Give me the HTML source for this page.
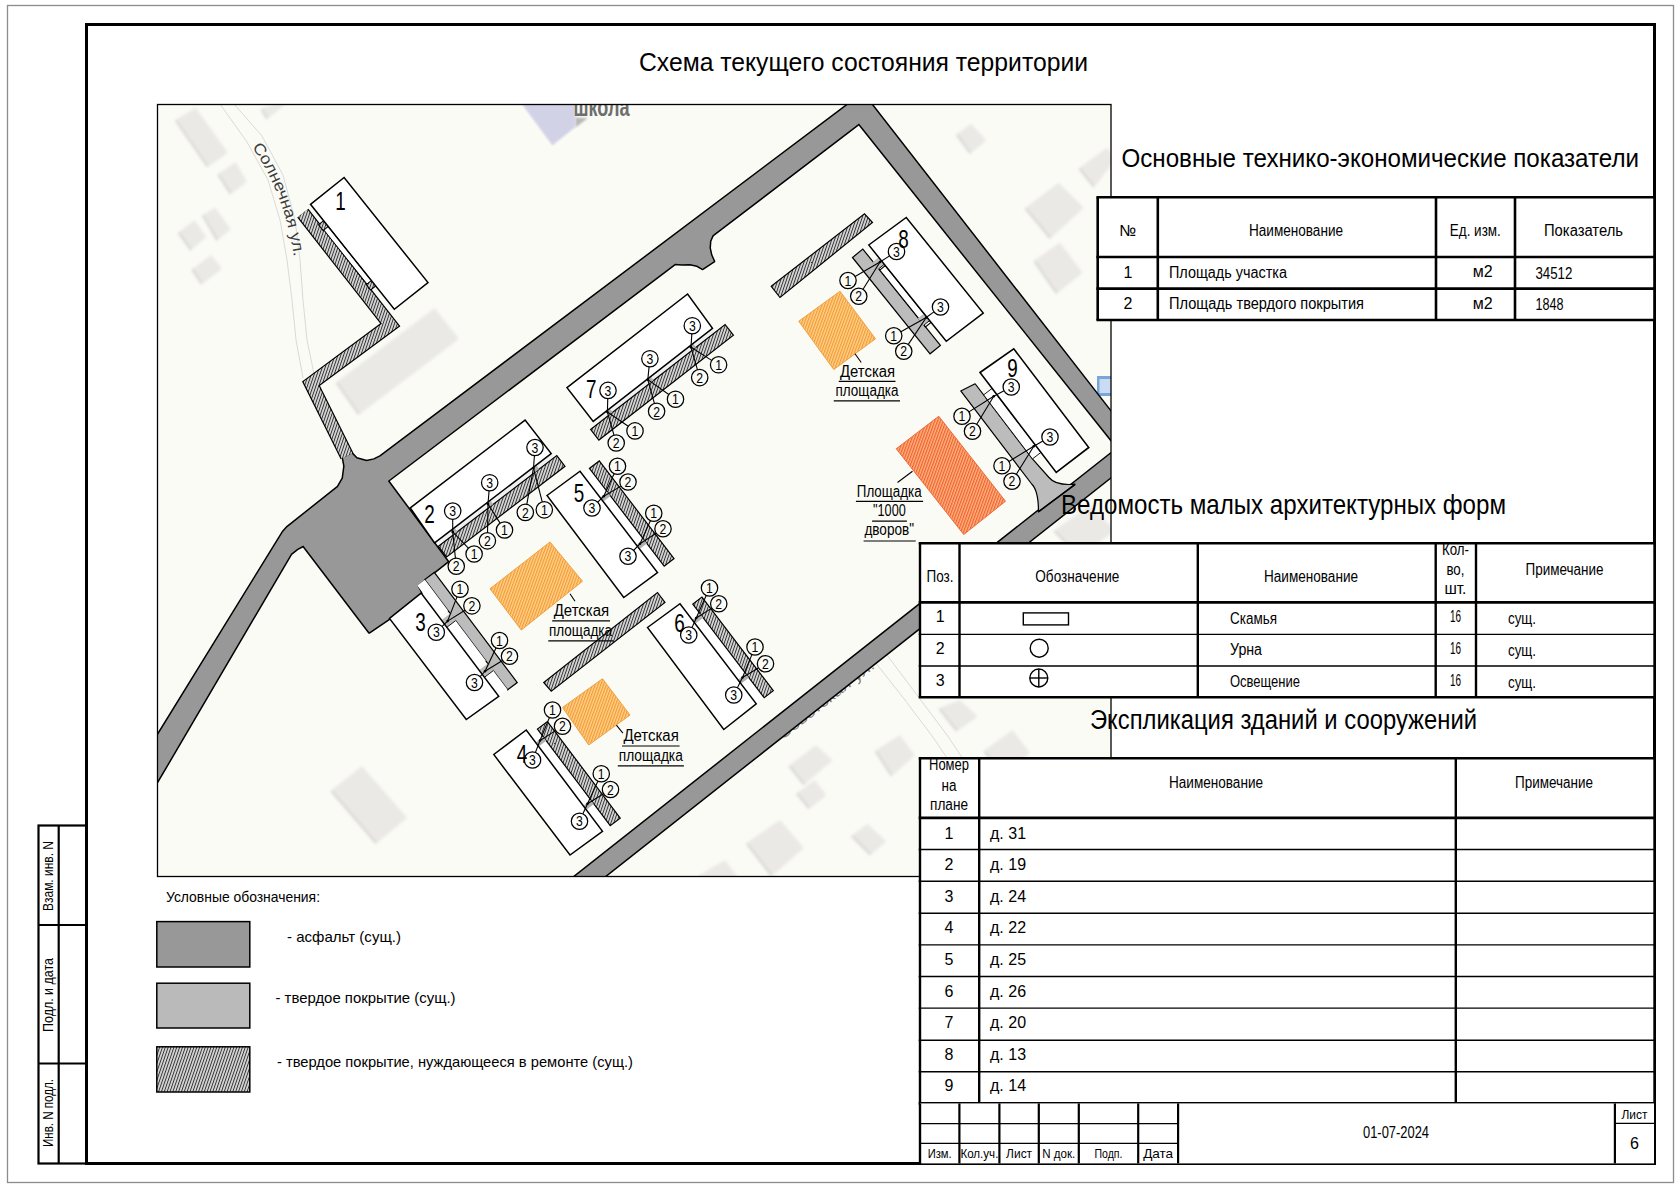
<!DOCTYPE html>
<html><head><meta charset="utf-8"><title>Схема текущего состояния территории</title>
<style>
html,body{margin:0;padding:0;background:#fff;}
body{width:1680px;height:1187px;overflow:hidden;}
svg{display:block;}
.t{font-family:"Liberation Sans",sans-serif;}
</style></head><body>
<svg width="1680" height="1187" viewBox="0 0 1680 1187">
<rect x="0" y="0" width="1680" height="1187" fill="#fff"/>
<defs>
<pattern id="hatchG" patternUnits="userSpaceOnUse" width="2.7" height="3" patternTransform="rotate(19)">
<rect width="2.7" height="3" fill="#d6d6d6"/><rect width="0.95" height="3" fill="#333"/></pattern>
<pattern id="hatchO" patternUnits="userSpaceOnUse" width="2.6" height="3" patternTransform="rotate(20)">
<rect width="2.6" height="3" fill="#ffd18a"/><rect width="1.2" height="3" fill="#f29a35"/></pattern>
<pattern id="hatchR" patternUnits="userSpaceOnUse" width="2.6" height="3" patternTransform="rotate(20)">
<rect width="2.6" height="3" fill="#ffb27e"/><rect width="1.2" height="3" fill="#ee6232"/></pattern>
<filter id="blur" x="-20%" y="-20%" width="140%" height="140%"><feGaussianBlur stdDeviation="1.6"/></filter>
<filter id="blur1" x="-20%" y="-20%" width="140%" height="140%"><feGaussianBlur stdDeviation="0.8"/></filter>
</defs>
<defs><clipPath id="mclip"><rect x="157.5" y="104.5" width="953.5" height="772"/></clipPath></defs>
<g clip-path="url(#mclip)">
<rect x="157.5" y="104.5" width="953.5" height="772" fill="#fbfbf6" stroke="none" stroke-width="0" />
<g filter="url(#blur)">
<polygon points="174.8,120.8 194.2,109.2 226.2,153.7 206.8,167.3" fill="#d6d6d4"/>
<polygon points="176.4,119.4 195.8,107.8 227.8,152.3 208.4,165.9" fill="#ebe9e6"/>
<polygon points="217.4,175.1 233.9,163.4 245.5,182.8 230,194.4" fill="#d6d6d4"/>
<polygon points="219,173.7 235.5,162 247.1,181.4 231.6,193" fill="#ebe9e6"/>
<polygon points="177.7,233.2 193.2,221.6 204.8,238.1 190.3,250.7" fill="#d6d6d4"/>
<polygon points="179.3,231.8 194.8,220.2 206.4,236.7 191.9,249.3" fill="#ebe9e6"/>
<polygon points="201.9,215.8 213.6,209 229.1,230.3 216.4,241" fill="#d6d6d4"/>
<polygon points="203.5,214.4 215.2,207.6 230.7,228.9 218,239.6" fill="#ebe9e6"/>
<polygon points="191.3,270 209.7,256.5 220.3,270 201,284.6" fill="#d6d6d4"/>
<polygon points="192.9,268.6 211.3,255.1 221.9,268.6 202.6,283.2" fill="#ebe9e6"/>
<polygon points="260.4,109.4 278.4,104.4 283.4,105.4 266.4,119.4" fill="#d6d6d4"/>
<polygon points="262,108 280,103 285,104 268,118" fill="#ebe9e6"/>
<polygon points="335.7,383.1 433.3,309.5 457.3,339.9 358.1,415.1" fill="#d6d6d4"/>
<polygon points="337.3,381.7 434.9,308.1 458.9,338.5 359.7,413.7" fill="#ebe9e6"/>
<polygon points="955.9,135.15 969.65,125.15 984.65,141.4 969.65,153.9" fill="#d6d6d4"/>
<polygon points="957.5,133.75 971.25,123.75 986.25,140 971.25,152.5" fill="#ebe9e6"/>
<polygon points="1078.4,168.9 1105.9,148.9 1113.4,161.4 1093.4,187.65" fill="#d6d6d4"/>
<polygon points="1080,167.5 1107.5,147.5 1115,160 1095,186.25" fill="#ebe9e6"/>
<polygon points="1024.65,208.9 1057.15,183.9 1082.15,208.9 1049.65,238.9" fill="#d6d6d4"/>
<polygon points="1026.25,207.5 1058.75,182.5 1083.75,207.5 1051.25,237.5" fill="#ebe9e6"/>
<polygon points="1033.4,261.4 1058.4,243.9 1080.9,273.9 1055.9,293.9" fill="#d6d6d4"/>
<polygon points="1035,260 1060,242.5 1082.5,272.5 1057.5,292.5" fill="#ebe9e6"/>
<polygon points="788.4,766.4 814.65,746.4 830.9,761.4 803.4,785.15" fill="#d6d6d4"/>
<polygon points="790,765 816.25,745 832.5,760 805,783.75" fill="#ebe9e6"/>
<polygon points="795.9,793.9 813.4,781.4 824.65,796.4 808.4,808.9" fill="#d6d6d4"/>
<polygon points="797.5,792.5 815,780 826.25,795 810,807.5" fill="#ebe9e6"/>
<polygon points="745.9,843.9 778.4,821.4 802.15,848.9 770.9,876.4" fill="#d6d6d4"/>
<polygon points="747.5,842.5 780,820 803.75,847.5 772.5,875" fill="#ebe9e6"/>
<polygon points="850.9,836.4 865.9,825.15 884.65,842.65 869.65,855.15" fill="#d6d6d4"/>
<polygon points="852.5,835 867.5,823.75 886.25,841.25 871.25,853.75" fill="#ebe9e6"/>
<polygon points="874.65,751.4 898.4,736.4 913.4,756.4 890.9,776.4" fill="#d6d6d4"/>
<polygon points="876.25,750 900,735 915,755 892.5,775" fill="#ebe9e6"/>
<polygon points="938.4,708.9 958.4,701.4 975.9,717.65 955.9,731.4" fill="#d6d6d4"/>
<polygon points="940,707.5 960,700 977.5,716.25 957.5,730" fill="#ebe9e6"/>
<polygon points="983.4,751.4 1010.9,731.4 1028.4,753.9 1000.4,773.4" fill="#d6d6d4"/>
<polygon points="985,750 1012.5,730 1030,752.5 1002,772" fill="#ebe9e6"/>
<polygon points="330.4,791.4 360.4,767.4 405.4,818.9 375.4,843.9" fill="#d6d6d4"/>
<polygon points="332,790 362,766 407,817.5 377,842.5" fill="#ebe9e6"/>
<polygon points="1053.4,531.4 1088.4,506.4 1113.4,531.4 1078.4,556.4" fill="#d6d6d4"/>
<polygon points="1055,530 1090,505 1115,530 1080,555" fill="#ebe9e6"/>
<polygon points="698.4,876.4 723.4,861.4 738.4,881.4 713.4,891.4" fill="#d6d6d4"/>
<polygon points="700,875 725,860 740,880 715,890" fill="#ebe9e6"/>
</g>
<polygon points="575,117.5 588,118 575.5,127.5" fill="#b8b8b8" stroke="none" stroke-width="0" filter="url(#blur1)"/>
<polygon points="519,100 552.4,145.5 575.5,127 576,100" fill="#d2d2e6" stroke="none" stroke-width="0" filter="url(#blur1)"/>
<text class="t" x="573.5" y="115.5" font-size="25" text-anchor="start" fill="#6e6e6e" textLength="56" lengthAdjust="spacingAndGlyphs" font-weight="bold" stroke="#f4f4f4" stroke-width="0.6" paint-order="stroke">школа</text>
<g fill="none" stroke="#d9d9d6" stroke-width="1">
<polyline points="220,104 247,142 268,180 280,220 287,260 292,300 296,340 303,378"/>
<polyline points="234,104 262,136 283,175 295,220 300,260 303,300 307,340 314,374"/>
<polyline points="875,662 905,700 935,740 955,770"/>
<polyline points="887,655 917,695 947,735 967,765"/>
</g>
<path id="solp" d="M252,147 Q288,198 295.5,270" fill="none"/>
<text class="t" font-size="16" fill="#3c3c3c" stroke="#fbfbf6" stroke-width="0.6" paint-order="stroke"><textPath href="#solp" textLength="119" lengthAdjust="spacingAndGlyphs">Солнечная ул.</textPath></text>
<text class="t" x="0" y="0" font-size="15" text-anchor="start" fill="#808080" textLength="118" lengthAdjust="spacingAndGlyphs" transform="translate(782.5,740) rotate(-38)">Советская ул.</text>
<rect x="1097" y="376" width="14" height="20" fill="#7aa6dc" stroke="none" stroke-width="0" />
<rect x="1099.5" y="379" width="11.5" height="14" fill="#c9dcf2" stroke="none" stroke-width="0" />
<polygon points="117.8,800 283,532 287,527.5 338,486.9 343,478.2 344.6,466.1 343,457.4 350.6,452.4 356.6,458.5 366.5,461.2 374.2,459.6 380.7,456.3 862.9,93.4 1130,436.5 1130,463.3 859,123.6 712.5,235.3 710,241 709.5,248 711,255 713.8,261.3 702.5,268.8 697,265.5 690,264 682,264.2 675,263.7 387.8,480.9 447.6,561.5 417.3,585.5 421.1,593.1 389.5,618.4 369.3,632.3 303.3,545.6 297,549 291,553.7 146.5,800" fill="none" stroke="#000" stroke-width="3" stroke-linejoin="round"/>
<polygon points="545.2,900 1130,438.6 1130,461.95 574.8,900" fill="none" stroke="#000" stroke-width="3" stroke-linejoin="round"/>
<polygon points="117.8,800 283,532 287,527.5 338,486.9 343,478.2 344.6,466.1 343,457.4 350.6,452.4 356.6,458.5 366.5,461.2 374.2,459.6 380.7,456.3 862.9,93.4 1130,436.5 1130,463.3 859,123.6 712.5,235.3 710,241 709.5,248 711,255 713.8,261.3 702.5,268.8 697,265.5 690,264 682,264.2 675,263.7 387.8,480.9 447.6,561.5 417.3,585.5 421.1,593.1 389.5,618.4 369.3,632.3 303.3,545.6 297,549 291,553.7 146.5,800" fill="#989898" stroke="none" stroke-width="0" />
<polygon points="545.2,900 1130,438.6 1130,461.95 574.8,900" fill="#989898" stroke="none" stroke-width="0" />
<polyline points="302.8,213.2 390.3,324.8 311,383.6 347,456" fill="none" stroke="#000" stroke-width="14.2" stroke-linejoin="miter" stroke-miterlimit="10"/>
<polyline points="302.8,213.2 390.3,324.8 311,383.6 347,456" fill="none" stroke="url(#hatchG)" stroke-width="11.8" stroke-linejoin="miter" stroke-miterlimit="10"/>
<polygon points="323.99,220.4 328.67,226.26 323.2,230.63 318.52,224.77" fill="url(#hatchG)" stroke="#000" stroke-width="1.1" />
<polygon points="371.71,280.19 376.08,285.66 370.61,290.03 366.24,284.56" fill="url(#hatchG)" stroke="#000" stroke-width="1.1" />
<polygon points="328.28,226.58 371.32,280.51 366.94,284 323.9,230.07" fill="#ffffff" stroke="none" stroke-width="0" />
<polygon points="310.5,204.3 344.1,177.5 428,282.6 394.3,309.3" fill="#ffffff" stroke="#000" stroke-width="1.5" stroke-linejoin="miter"/>
<text class="t" x="340.5" y="210.3" font-size="26.5" text-anchor="middle" fill="#000" textLength="10.5" lengthAdjust="spacingAndGlyphs" >1</text>
<polygon points="328.28,226.58 371.32,280.51 366.94,284 323.9,230.07" fill="none" stroke="#000" stroke-width="1.0" />
<polygon points="440.95,538.04 551.23,453.58 554.27,457.55 443.99,542.01" fill="#f0f0f0" stroke="none" stroke-width="0" />
<polygon points="438.43,546.26 556.81,455.6 565.01,466.32 446.64,556.98" fill="url(#hatchG)" stroke="#000" stroke-width="1.2" />
<polygon points="450.83,531.1 454.8,528.06 457.53,531.63 453.56,534.67" fill="#b0b0b0" stroke="none" stroke-width="0" />
<polygon points="486.5,503.78 490.47,500.74 493.2,504.32 489.23,507.36" fill="#b0b0b0" stroke="none" stroke-width="0" />
<polygon points="532.55,468.51 536.52,465.47 539.26,469.04 535.29,472.08" fill="#b0b0b0" stroke="none" stroke-width="0" />
<polygon points="410.3,507.9 525.1,420.1 551.2,453.6 434.6,542.9" fill="#ffffff" stroke="#000" stroke-width="1.5" stroke-linejoin="miter"/>
<text class="t" x="429.5" y="523" font-size="26.5" text-anchor="middle" fill="#000" textLength="10.5" lengthAdjust="spacingAndGlyphs" >2</text>
<line x1="452.7" y1="531.9" x2="468.4" y2="548.11" stroke="#000" stroke-width="1.1"/>
<line x1="452.7" y1="531.9" x2="455.41" y2="558.09" stroke="#000" stroke-width="1.1"/>
<line x1="452.7" y1="531.9" x2="452.7" y2="519.3" stroke="#000" stroke-width="1.1"/>
<circle cx="452.7" cy="531.9" r="1.3" fill="#000"/>
<circle cx="474.1" cy="554" r="8.2" fill="none" stroke="#000" stroke-width="1.25"/>
<text class="t" x="474.1" y="559.2" font-size="14.5" text-anchor="middle" fill="#000" textLength="6.8" lengthAdjust="spacingAndGlyphs" >1</text>
<circle cx="456.25" cy="566.25" r="8.2" fill="none" stroke="#000" stroke-width="1.25"/>
<text class="t" x="456.25" y="571.45" font-size="14.5" text-anchor="middle" fill="#000" textLength="6.8" lengthAdjust="spacingAndGlyphs" >2</text>
<circle cx="452.7" cy="511.1" r="8.2" fill="none" stroke="#000" stroke-width="1.25"/>
<text class="t" x="452.7" y="516.3" font-size="14.5" text-anchor="middle" fill="#000" textLength="6.8" lengthAdjust="spacingAndGlyphs" >3</text>
<line x1="488" y1="504.1" x2="500.09" y2="523.08" stroke="#000" stroke-width="1.1"/>
<line x1="488" y1="504.1" x2="487.53" y2="532.6" stroke="#000" stroke-width="1.1"/>
<line x1="488" y1="504.1" x2="489.05" y2="490.87" stroke="#000" stroke-width="1.1"/>
<circle cx="488" cy="504.1" r="1.3" fill="#000"/>
<circle cx="504.5" cy="530" r="8.2" fill="none" stroke="#000" stroke-width="1.25"/>
<text class="t" x="504.5" y="535.2" font-size="14.5" text-anchor="middle" fill="#000" textLength="6.8" lengthAdjust="spacingAndGlyphs" >1</text>
<circle cx="487.4" cy="540.8" r="8.2" fill="none" stroke="#000" stroke-width="1.25"/>
<text class="t" x="487.4" y="546" font-size="14.5" text-anchor="middle" fill="#000" textLength="6.8" lengthAdjust="spacingAndGlyphs" >2</text>
<circle cx="489.7" cy="482.7" r="8.2" fill="none" stroke="#000" stroke-width="1.25"/>
<text class="t" x="489.7" y="487.9" font-size="14.5" text-anchor="middle" fill="#000" textLength="6.8" lengthAdjust="spacingAndGlyphs" >3</text>
<line x1="533.5" y1="468.1" x2="542.24" y2="501.86" stroke="#000" stroke-width="1.1"/>
<line x1="533.5" y1="468.1" x2="526.79" y2="504.34" stroke="#000" stroke-width="1.1"/>
<line x1="533.5" y1="468.1" x2="534.4" y2="455.68" stroke="#000" stroke-width="1.1"/>
<circle cx="533.5" cy="468.1" r="1.3" fill="#000"/>
<circle cx="544.3" cy="509.8" r="8.2" fill="none" stroke="#000" stroke-width="1.25"/>
<text class="t" x="544.3" y="515" font-size="14.5" text-anchor="middle" fill="#000" textLength="6.8" lengthAdjust="spacingAndGlyphs" >1</text>
<circle cx="525.3" cy="512.4" r="8.2" fill="none" stroke="#000" stroke-width="1.25"/>
<text class="t" x="525.3" y="517.6" font-size="14.5" text-anchor="middle" fill="#000" textLength="6.8" lengthAdjust="spacingAndGlyphs" >2</text>
<circle cx="535" cy="447.5" r="8.2" fill="none" stroke="#000" stroke-width="1.25"/>
<text class="t" x="535" y="452.7" font-size="14.5" text-anchor="middle" fill="#000" textLength="6.8" lengthAdjust="spacingAndGlyphs" >3</text>
<polygon points="424.72,579.61 507.65,689.79 517.24,682.57 434.3,572.4" fill="#bcbcbc" stroke="#000" stroke-width="1.2" />
<polygon points="417.25,585.49 440.34,616.17 447.93,610.45 424.84,579.77" fill="#ffffff" stroke="none" stroke-width="0" />
<polygon points="442.45,618.96 478.23,666.5 485.82,660.78 450.04,613.25" fill="#ffffff" stroke="none" stroke-width="0" />
<polygon points="480.64,669.69 499.88,695.26 507.47,689.55 488.23,663.98" fill="#ffffff" stroke="none" stroke-width="0" />
<polygon points="441.67,619.93 447.09,627.12 456.27,620.2 450.86,613.01" fill="#bcbcbc" stroke="none" stroke-width="0" />
<polyline points="446.85,627.3 455.63,620.68" fill="none" stroke="#000" stroke-width="0.9" />
<polygon points="479.3,669.91 484.71,677.1 493.9,670.18 488.49,662.99" fill="#bcbcbc" stroke="none" stroke-width="0" />
<polyline points="484.47,677.28 493.26,670.67" fill="none" stroke="#000" stroke-width="0.9" />
<polygon points="389.5,618.4 421.1,593.1 498.75,696.25 466.25,719.5" fill="#ffffff" stroke="#000" stroke-width="1.5" stroke-linejoin="miter"/>
<text class="t" x="420.5" y="630.6" font-size="26.5" text-anchor="middle" fill="#000" textLength="10.5" lengthAdjust="spacingAndGlyphs" >3</text>
<line x1="447.6" y1="621.1" x2="457.03" y2="596.84" stroke="#000" stroke-width="1.1"/>
<line x1="447.6" y1="621.1" x2="464.96" y2="610.17" stroke="#000" stroke-width="1.1"/>
<line x1="447.6" y1="621.1" x2="442.15" y2="626.45" stroke="#000" stroke-width="1.1"/>
<circle cx="447.6" cy="621.1" r="1.3" fill="#000"/>
<circle cx="460" cy="589.2" r="8.2" fill="none" stroke="#000" stroke-width="1.25"/>
<text class="t" x="460" y="594.4" font-size="14.5" text-anchor="middle" fill="#000" textLength="6.8" lengthAdjust="spacingAndGlyphs" >1</text>
<circle cx="471.9" cy="605.8" r="8.2" fill="none" stroke="#000" stroke-width="1.25"/>
<text class="t" x="471.9" y="611" font-size="14.5" text-anchor="middle" fill="#000" textLength="6.8" lengthAdjust="spacingAndGlyphs" >2</text>
<circle cx="436.3" cy="632.2" r="8.2" fill="none" stroke="#000" stroke-width="1.25"/>
<text class="t" x="436.3" y="637.4" font-size="14.5" text-anchor="middle" fill="#000" textLength="6.8" lengthAdjust="spacingAndGlyphs" >3</text>
<line x1="485" y1="671.25" x2="496" y2="647.92" stroke="#000" stroke-width="1.1"/>
<line x1="485" y1="671.25" x2="502.51" y2="660.53" stroke="#000" stroke-width="1.1"/>
<line x1="485" y1="671.25" x2="480.1" y2="676.51" stroke="#000" stroke-width="1.1"/>
<circle cx="485" cy="671.25" r="1.3" fill="#000"/>
<circle cx="499.5" cy="640.5" r="8.2" fill="none" stroke="#000" stroke-width="1.25"/>
<text class="t" x="499.5" y="645.7" font-size="14.5" text-anchor="middle" fill="#000" textLength="6.8" lengthAdjust="spacingAndGlyphs" >1</text>
<circle cx="509.5" cy="656.25" r="8.2" fill="none" stroke="#000" stroke-width="1.25"/>
<text class="t" x="509.5" y="661.45" font-size="14.5" text-anchor="middle" fill="#000" textLength="6.8" lengthAdjust="spacingAndGlyphs" >2</text>
<circle cx="474.5" cy="682.5" r="8.2" fill="none" stroke="#000" stroke-width="1.25"/>
<text class="t" x="474.5" y="687.7" font-size="14.5" text-anchor="middle" fill="#000" textLength="6.8" lengthAdjust="spacingAndGlyphs" >3</text>
<polygon points="530.66,734.19 603.45,830.85 610.24,825.73 537.45,729.08" fill="#ffffff" stroke="none" stroke-width="0" />
<polygon points="537.45,729.08 610.24,825.73 620.22,818.21 547.43,721.56" fill="url(#hatchG)" stroke="#000" stroke-width="1.2" />
<polygon points="536.07,742.21 539.08,746.2 546.27,740.79 543.26,736.79" fill="#b0b0b0" stroke="none" stroke-width="0" />
<polygon points="583.65,805.39 586.66,809.39 593.85,803.97 590.84,799.98" fill="#b0b0b0" stroke="none" stroke-width="0" />
<polygon points="493.75,754.5 526.25,730 602.5,831.25 570,855" fill="#ffffff" stroke="#000" stroke-width="1.5" stroke-linejoin="miter"/>
<text class="t" x="522" y="763" font-size="26.5" text-anchor="middle" fill="#000" textLength="10.5" lengthAdjust="spacingAndGlyphs" >4</text>
<line x1="540" y1="740.5" x2="549.39" y2="717.59" stroke="#000" stroke-width="1.1"/>
<line x1="540" y1="740.5" x2="555.57" y2="730.64" stroke="#000" stroke-width="1.1"/>
<line x1="540" y1="740.5" x2="535.44" y2="752.35" stroke="#000" stroke-width="1.1"/>
<circle cx="540" cy="740.5" r="1.3" fill="#000"/>
<circle cx="552.5" cy="710" r="8.2" fill="none" stroke="#000" stroke-width="1.25"/>
<text class="t" x="552.5" y="715.2" font-size="14.5" text-anchor="middle" fill="#000" textLength="6.8" lengthAdjust="spacingAndGlyphs" >1</text>
<circle cx="562.5" cy="726.25" r="8.2" fill="none" stroke="#000" stroke-width="1.25"/>
<text class="t" x="562.5" y="731.45" font-size="14.5" text-anchor="middle" fill="#000" textLength="6.8" lengthAdjust="spacingAndGlyphs" >2</text>
<circle cx="532.5" cy="760" r="8.2" fill="none" stroke="#000" stroke-width="1.25"/>
<text class="t" x="532.5" y="765.2" font-size="14.5" text-anchor="middle" fill="#000" textLength="6.8" lengthAdjust="spacingAndGlyphs" >3</text>
<line x1="587.5" y1="803.75" x2="597.83" y2="781.2" stroke="#000" stroke-width="1.1"/>
<line x1="587.5" y1="803.75" x2="603.53" y2="793.82" stroke="#000" stroke-width="1.1"/>
<line x1="587.5" y1="803.75" x2="582.91" y2="813.79" stroke="#000" stroke-width="1.1"/>
<circle cx="587.5" cy="803.75" r="1.3" fill="#000"/>
<circle cx="601.25" cy="773.75" r="8.2" fill="none" stroke="#000" stroke-width="1.25"/>
<text class="t" x="601.25" y="778.95" font-size="14.5" text-anchor="middle" fill="#000" textLength="6.8" lengthAdjust="spacingAndGlyphs" >1</text>
<circle cx="610.5" cy="789.5" r="8.2" fill="none" stroke="#000" stroke-width="1.25"/>
<text class="t" x="610.5" y="794.7" font-size="14.5" text-anchor="middle" fill="#000" textLength="6.8" lengthAdjust="spacingAndGlyphs" >2</text>
<circle cx="579.5" cy="821.25" r="8.2" fill="none" stroke="#000" stroke-width="1.25"/>
<text class="t" x="579.5" y="826.45" font-size="14.5" text-anchor="middle" fill="#000" textLength="6.8" lengthAdjust="spacingAndGlyphs" >3</text>
<polygon points="582.92,473.42 657.68,571.09 664.19,566.11 589.43,468.44" fill="#ffffff" stroke="none" stroke-width="0" />
<polygon points="589.43,468.44 664.19,566.11 674.04,558.57 599.28,460.9" fill="url(#hatchG)" stroke="#000" stroke-width="1.2" />
<polygon points="600.63,497.38 603.67,501.35 610.58,496.06 607.54,492.09" fill="#b0b0b0" stroke="none" stroke-width="0" />
<polygon points="636.95,544.83 639.99,548.8 646.9,543.51 643.86,539.54" fill="#b0b0b0" stroke="none" stroke-width="0" />
<polygon points="547,495.5 580,471.25 657.5,572.5 623.75,597.5" fill="#ffffff" stroke="#000" stroke-width="1.5" stroke-linejoin="miter"/>
<text class="t" x="579" y="502" font-size="26.5" text-anchor="middle" fill="#000" textLength="10.5" lengthAdjust="spacingAndGlyphs" >5</text>
<line x1="603.75" y1="496.25" x2="614.08" y2="473.7" stroke="#000" stroke-width="1.1"/>
<line x1="603.75" y1="496.25" x2="620.93" y2="486.15" stroke="#000" stroke-width="1.1"/>
<line x1="603.75" y1="496.25" x2="597.8" y2="502.2" stroke="#000" stroke-width="1.1"/>
<circle cx="603.75" cy="496.25" r="1.3" fill="#000"/>
<circle cx="617.5" cy="466.25" r="8.2" fill="none" stroke="#000" stroke-width="1.25"/>
<text class="t" x="617.5" y="471.45" font-size="14.5" text-anchor="middle" fill="#000" textLength="6.8" lengthAdjust="spacingAndGlyphs" >1</text>
<circle cx="628" cy="482" r="8.2" fill="none" stroke="#000" stroke-width="1.25"/>
<text class="t" x="628" y="487.2" font-size="14.5" text-anchor="middle" fill="#000" textLength="6.8" lengthAdjust="spacingAndGlyphs" >2</text>
<circle cx="592" cy="508" r="8.2" fill="none" stroke="#000" stroke-width="1.25"/>
<text class="t" x="592" y="513.2" font-size="14.5" text-anchor="middle" fill="#000" textLength="6.8" lengthAdjust="spacingAndGlyphs" >3</text>
<line x1="640" y1="543.75" x2="650.38" y2="520.73" stroke="#000" stroke-width="1.1"/>
<line x1="640" y1="543.75" x2="656.13" y2="533.23" stroke="#000" stroke-width="1.1"/>
<line x1="640" y1="543.75" x2="633.68" y2="550.33" stroke="#000" stroke-width="1.1"/>
<circle cx="640" cy="543.75" r="1.3" fill="#000"/>
<circle cx="653.75" cy="513.25" r="8.2" fill="none" stroke="#000" stroke-width="1.25"/>
<text class="t" x="653.75" y="518.45" font-size="14.5" text-anchor="middle" fill="#000" textLength="6.8" lengthAdjust="spacingAndGlyphs" >1</text>
<circle cx="663" cy="528.75" r="8.2" fill="none" stroke="#000" stroke-width="1.25"/>
<text class="t" x="663" y="533.95" font-size="14.5" text-anchor="middle" fill="#000" textLength="6.8" lengthAdjust="spacingAndGlyphs" >2</text>
<circle cx="628" cy="556.25" r="8.2" fill="none" stroke="#000" stroke-width="1.25"/>
<text class="t" x="628" y="561.45" font-size="14.5" text-anchor="middle" fill="#000" textLength="6.8" lengthAdjust="spacingAndGlyphs" >3</text>
<polygon points="685.65,609.51 757.01,703.1 764.17,697.64 692.8,604.05" fill="#ffffff" stroke="none" stroke-width="0" />
<polygon points="692.8,604.05 764.17,697.64 773.31,690.67 701.95,597.08" fill="url(#hatchG)" stroke="#000" stroke-width="1.2" />
<polygon points="692.64,619.5 695.67,623.47 703.22,617.71 700.19,613.74" fill="#b0b0b0" stroke="none" stroke-width="0" />
<polygon points="738.33,679.42 741.36,683.4 748.92,677.64 745.88,673.66" fill="#b0b0b0" stroke="none" stroke-width="0" />
<polygon points="647.5,627.5 680,603.75 756.25,703.75 723.75,729.5" fill="#ffffff" stroke="#000" stroke-width="1.5" stroke-linejoin="miter"/>
<text class="t" x="679.5" y="632.4" font-size="26.5" text-anchor="middle" fill="#000" textLength="10.5" lengthAdjust="spacingAndGlyphs" >6</text>
<line x1="696.25" y1="618" x2="706.19" y2="595.5" stroke="#000" stroke-width="1.1"/>
<line x1="696.25" y1="618" x2="711.82" y2="608.14" stroke="#000" stroke-width="1.1"/>
<line x1="696.25" y1="618" x2="692.06" y2="627.5" stroke="#000" stroke-width="1.1"/>
<circle cx="696.25" cy="618" r="1.3" fill="#000"/>
<circle cx="709.5" cy="588" r="8.2" fill="none" stroke="#000" stroke-width="1.25"/>
<text class="t" x="709.5" y="593.2" font-size="14.5" text-anchor="middle" fill="#000" textLength="6.8" lengthAdjust="spacingAndGlyphs" >1</text>
<circle cx="718.75" cy="603.75" r="8.2" fill="none" stroke="#000" stroke-width="1.25"/>
<text class="t" x="718.75" y="608.95" font-size="14.5" text-anchor="middle" fill="#000" textLength="6.8" lengthAdjust="spacingAndGlyphs" >2</text>
<circle cx="688.75" cy="635" r="8.2" fill="none" stroke="#000" stroke-width="1.25"/>
<text class="t" x="688.75" y="640.2" font-size="14.5" text-anchor="middle" fill="#000" textLength="6.8" lengthAdjust="spacingAndGlyphs" >3</text>
<line x1="742.5" y1="677.5" x2="751.89" y2="654.59" stroke="#000" stroke-width="1.1"/>
<line x1="742.5" y1="677.5" x2="758.46" y2="667.96" stroke="#000" stroke-width="1.1"/>
<line x1="742.5" y1="677.5" x2="737.42" y2="687.67" stroke="#000" stroke-width="1.1"/>
<circle cx="742.5" cy="677.5" r="1.3" fill="#000"/>
<circle cx="755" cy="647" r="8.2" fill="none" stroke="#000" stroke-width="1.25"/>
<text class="t" x="755" y="652.2" font-size="14.5" text-anchor="middle" fill="#000" textLength="6.8" lengthAdjust="spacingAndGlyphs" >1</text>
<circle cx="765.5" cy="663.75" r="8.2" fill="none" stroke="#000" stroke-width="1.25"/>
<text class="t" x="765.5" y="668.95" font-size="14.5" text-anchor="middle" fill="#000" textLength="6.8" lengthAdjust="spacingAndGlyphs" >2</text>
<circle cx="733.75" cy="695" r="8.2" fill="none" stroke="#000" stroke-width="1.25"/>
<text class="t" x="733.75" y="700.2" font-size="14.5" text-anchor="middle" fill="#000" textLength="6.8" lengthAdjust="spacingAndGlyphs" >3</text>
<polygon points="597.14,418.33 712.29,328.56 715.18,332.27 600.03,422.03" fill="#f0f0f0" stroke="none" stroke-width="0" />
<polygon points="590.57,429.41 725.12,324.52 733.42,335.17 598.87,440.06" fill="url(#hatchG)" stroke="#000" stroke-width="1.2" />
<polygon points="606.11,411.97 610.05,408.9 612.63,412.21 608.69,415.28" fill="#b0b0b0" stroke="none" stroke-width="0" />
<polygon points="646.95,380.13 650.89,377.06 653.47,380.37 649.53,383.45" fill="#b0b0b0" stroke="none" stroke-width="0" />
<polygon points="689.48,346.98 693.42,343.9 696.01,347.22 692.06,350.29" fill="#b0b0b0" stroke="none" stroke-width="0" />
<polygon points="567,387.7 687.6,294 712.5,328.4 593.2,421.4" fill="#ffffff" stroke="#000" stroke-width="1.5" stroke-linejoin="miter"/>
<text class="t" x="591.2" y="397.8" font-size="26.5" text-anchor="middle" fill="#000" textLength="10.5" lengthAdjust="spacingAndGlyphs" >7</text>
<line x1="607.4" y1="412" x2="628.23" y2="426.27" stroke="#000" stroke-width="1.1"/>
<line x1="607.4" y1="412" x2="613.96" y2="435.11" stroke="#000" stroke-width="1.1"/>
<line x1="607.4" y1="412" x2="607.77" y2="398.6" stroke="#000" stroke-width="1.1"/>
<circle cx="607.4" cy="412" r="1.3" fill="#000"/>
<circle cx="635" cy="430.9" r="8.2" fill="none" stroke="#000" stroke-width="1.25"/>
<text class="t" x="635" y="436.1" font-size="14.5" text-anchor="middle" fill="#000" textLength="6.8" lengthAdjust="spacingAndGlyphs" >1</text>
<circle cx="616.2" cy="443" r="8.2" fill="none" stroke="#000" stroke-width="1.25"/>
<text class="t" x="616.2" y="448.2" font-size="14.5" text-anchor="middle" fill="#000" textLength="6.8" lengthAdjust="spacingAndGlyphs" >2</text>
<circle cx="608" cy="390.4" r="8.2" fill="none" stroke="#000" stroke-width="1.25"/>
<text class="t" x="608" y="395.6" font-size="14.5" text-anchor="middle" fill="#000" textLength="6.8" lengthAdjust="spacingAndGlyphs" >3</text>
<line x1="647.8" y1="379.6" x2="668.81" y2="394.46" stroke="#000" stroke-width="1.1"/>
<line x1="647.8" y1="379.6" x2="654.41" y2="403.4" stroke="#000" stroke-width="1.1"/>
<line x1="647.8" y1="379.6" x2="649.08" y2="366.86" stroke="#000" stroke-width="1.1"/>
<circle cx="647.8" cy="379.6" r="1.3" fill="#000"/>
<circle cx="675.5" cy="399.2" r="8.2" fill="none" stroke="#000" stroke-width="1.25"/>
<text class="t" x="675.5" y="404.4" font-size="14.5" text-anchor="middle" fill="#000" textLength="6.8" lengthAdjust="spacingAndGlyphs" >1</text>
<circle cx="656.6" cy="411.3" r="8.2" fill="none" stroke="#000" stroke-width="1.25"/>
<text class="t" x="656.6" y="416.5" font-size="14.5" text-anchor="middle" fill="#000" textLength="6.8" lengthAdjust="spacingAndGlyphs" >2</text>
<circle cx="649.9" cy="358.7" r="8.2" fill="none" stroke="#000" stroke-width="1.25"/>
<text class="t" x="649.9" y="363.9" font-size="14.5" text-anchor="middle" fill="#000" textLength="6.8" lengthAdjust="spacingAndGlyphs" >3</text>
<line x1="691" y1="347.3" x2="711.67" y2="360.41" stroke="#000" stroke-width="1.1"/>
<line x1="691" y1="347.3" x2="697.44" y2="369.72" stroke="#000" stroke-width="1.1"/>
<line x1="691" y1="347.3" x2="691.81" y2="333.89" stroke="#000" stroke-width="1.1"/>
<circle cx="691" cy="347.3" r="1.3" fill="#000"/>
<circle cx="718.6" cy="364.8" r="8.2" fill="none" stroke="#000" stroke-width="1.25"/>
<text class="t" x="718.6" y="370" font-size="14.5" text-anchor="middle" fill="#000" textLength="6.8" lengthAdjust="spacingAndGlyphs" >1</text>
<circle cx="699.7" cy="377.6" r="8.2" fill="none" stroke="#000" stroke-width="1.25"/>
<text class="t" x="699.7" y="382.8" font-size="14.5" text-anchor="middle" fill="#000" textLength="6.8" lengthAdjust="spacingAndGlyphs" >2</text>
<circle cx="692.3" cy="325.7" r="8.2" fill="none" stroke="#000" stroke-width="1.25"/>
<text class="t" x="692.3" y="330.9" font-size="14.5" text-anchor="middle" fill="#000" textLength="6.8" lengthAdjust="spacingAndGlyphs" >3</text>
<polygon points="862.83,249.13 940.41,345.47 930.05,353.82 852.47,257.47" fill="#bcbcbc" stroke="#000" stroke-width="1.2" />
<polygon points="885.37,265.64 931.03,322.34 925.42,326.86 879.76,270.16" fill="#ffffff" stroke="#000" stroke-width="1.1" />
<polygon points="878.42,257.49 884.07,264.5 878.07,269.33 872.43,262.32" fill="#bcbcbc" stroke="none" stroke-width="0" />
<polyline points="884.3,264.31 878.69,268.83" fill="none" stroke="#000" stroke-width="0.9" />
<polygon points="923.73,313.75 929.37,320.76 923.37,325.59 917.73,318.58" fill="#bcbcbc" stroke="none" stroke-width="0" />
<polyline points="929.6,320.58 924,325.09" fill="none" stroke="#000" stroke-width="0.9" />
<polygon points="868.75,245 906.25,217.5 983.25,313 946.25,341.25" fill="#ffffff" stroke="#000" stroke-width="1.5" stroke-linejoin="miter"/>
<text class="t" x="903.5" y="248" font-size="26.5" text-anchor="middle" fill="#000" textLength="10.5" lengthAdjust="spacingAndGlyphs" >8</text>
<line x1="880" y1="262" x2="855.1" y2="276.4" stroke="#000" stroke-width="1.1"/>
<line x1="880" y1="262" x2="863.07" y2="289.28" stroke="#000" stroke-width="1.1"/>
<line x1="880" y1="262" x2="889.58" y2="255.9" stroke="#000" stroke-width="1.1"/>
<circle cx="880" cy="262" r="1.3" fill="#000"/>
<circle cx="848" cy="280.5" r="8.2" fill="none" stroke="#000" stroke-width="1.25"/>
<text class="t" x="848" y="285.7" font-size="14.5" text-anchor="middle" fill="#000" textLength="6.8" lengthAdjust="spacingAndGlyphs" >1</text>
<circle cx="858.75" cy="296.25" r="8.2" fill="none" stroke="#000" stroke-width="1.25"/>
<text class="t" x="858.75" y="301.45" font-size="14.5" text-anchor="middle" fill="#000" textLength="6.8" lengthAdjust="spacingAndGlyphs" >2</text>
<circle cx="896.5" cy="251.5" r="8.2" fill="none" stroke="#000" stroke-width="1.25"/>
<text class="t" x="896.5" y="256.7" font-size="14.5" text-anchor="middle" fill="#000" textLength="6.8" lengthAdjust="spacingAndGlyphs" >3</text>
<line x1="926.25" y1="317.5" x2="900.9" y2="331.74" stroke="#000" stroke-width="1.1"/>
<line x1="926.25" y1="317.5" x2="908.3" y2="344.43" stroke="#000" stroke-width="1.1"/>
<line x1="926.25" y1="317.5" x2="933.9" y2="311.86" stroke="#000" stroke-width="1.1"/>
<circle cx="926.25" cy="317.5" r="1.3" fill="#000"/>
<circle cx="893.75" cy="335.75" r="8.2" fill="none" stroke="#000" stroke-width="1.25"/>
<text class="t" x="893.75" y="340.95" font-size="14.5" text-anchor="middle" fill="#000" textLength="6.8" lengthAdjust="spacingAndGlyphs" >1</text>
<circle cx="903.75" cy="351.25" r="8.2" fill="none" stroke="#000" stroke-width="1.25"/>
<text class="t" x="903.75" y="356.45" font-size="14.5" text-anchor="middle" fill="#000" textLength="6.8" lengthAdjust="spacingAndGlyphs" >2</text>
<circle cx="940.5" cy="307" r="8.2" fill="none" stroke="#000" stroke-width="1.25"/>
<text class="t" x="940.5" y="312.2" font-size="14.5" text-anchor="middle" fill="#000" textLength="6.8" lengthAdjust="spacingAndGlyphs" >3</text>
<path d="M960.75,390.95 L1031.69,483.99 Q1038.5,490.5 1038.5,512 L1075,484.2 Q1056,486 1049,477.5 L1032.43,458.91 L1032.13,458.51 L975.13,383.76 Z" fill="#bcbcbc" stroke="#000" stroke-width="1.2" stroke-linejoin="round"/>
<line x1="1038.5" y1="511.6" x2="1075" y2="484.6" stroke="#000" stroke-width="1.4"/>
<polygon points="992.13,388.4 1040.94,452.42 1032.43,458.91 983.62,394.89" fill="#fdfdfd" stroke="#000" stroke-width="0.9" />
<polygon points="980,372.5 1013.75,348.75 1088.75,447.5 1056.25,472.5" fill="#ffffff" stroke="#000" stroke-width="1.6" />
<text class="t" x="1012.4" y="377.4" font-size="26.5" text-anchor="middle" fill="#000" textLength="10.5" lengthAdjust="spacingAndGlyphs" >9</text>
<line x1="993.75" y1="396.25" x2="968.94" y2="411.88" stroke="#000" stroke-width="1.1"/>
<line x1="993.75" y1="396.25" x2="976.76" y2="424.24" stroke="#000" stroke-width="1.1"/>
<line x1="993.75" y1="396.25" x2="1004" y2="390.83" stroke="#000" stroke-width="1.1"/>
<circle cx="993.75" cy="396.25" r="1.3" fill="#000"/>
<circle cx="962" cy="416.25" r="8.2" fill="none" stroke="#000" stroke-width="1.25"/>
<text class="t" x="962" y="421.45" font-size="14.5" text-anchor="middle" fill="#000" textLength="6.8" lengthAdjust="spacingAndGlyphs" >1</text>
<circle cx="972.5" cy="431.25" r="8.2" fill="none" stroke="#000" stroke-width="1.25"/>
<text class="t" x="972.5" y="436.45" font-size="14.5" text-anchor="middle" fill="#000" textLength="6.8" lengthAdjust="spacingAndGlyphs" >2</text>
<circle cx="1011.25" cy="387" r="8.2" fill="none" stroke="#000" stroke-width="1.25"/>
<text class="t" x="1011.25" y="392.2" font-size="14.5" text-anchor="middle" fill="#000" textLength="6.8" lengthAdjust="spacingAndGlyphs" >3</text>
<line x1="1033.75" y1="446.25" x2="1008.99" y2="461.46" stroke="#000" stroke-width="1.1"/>
<line x1="1033.75" y1="446.25" x2="1016.33" y2="474.29" stroke="#000" stroke-width="1.1"/>
<line x1="1033.75" y1="446.25" x2="1042.87" y2="441.06" stroke="#000" stroke-width="1.1"/>
<circle cx="1033.75" cy="446.25" r="1.3" fill="#000"/>
<circle cx="1002" cy="465.75" r="8.2" fill="none" stroke="#000" stroke-width="1.25"/>
<text class="t" x="1002" y="470.95" font-size="14.5" text-anchor="middle" fill="#000" textLength="6.8" lengthAdjust="spacingAndGlyphs" >1</text>
<circle cx="1012" cy="481.25" r="8.2" fill="none" stroke="#000" stroke-width="1.25"/>
<text class="t" x="1012" y="486.45" font-size="14.5" text-anchor="middle" fill="#000" textLength="6.8" lengthAdjust="spacingAndGlyphs" >2</text>
<circle cx="1050" cy="437" r="8.2" fill="none" stroke="#000" stroke-width="1.25"/>
<text class="t" x="1050" y="442.2" font-size="14.5" text-anchor="middle" fill="#000" textLength="6.8" lengthAdjust="spacingAndGlyphs" >3</text>
<polygon points="798.75,321.25 840,291.25 875.5,338.75 833.75,369.5" fill="url(#hatchO)" stroke="#f0a040" stroke-width="1" />
<polygon points="490,588.75 550,542 582.5,581.25 521.25,630" fill="url(#hatchO)" stroke="#f0a040" stroke-width="1" />
<polygon points="562.5,707.5 602.5,678.75 630,715 588.75,745" fill="url(#hatchO)" stroke="#f0a040" stroke-width="1" />
<polygon points="896.25,448.75 938.75,416.25 1005.5,501.25 963.75,534.5" fill="url(#hatchR)" stroke="#ec6a3c" stroke-width="1" />
<polygon points="771.25,286.25 864.5,213.75 872.5,222.5 780,297.5" fill="url(#hatchG)" stroke="#000" stroke-width="1.2" />
<polygon points="543.75,682.5 657.5,592.5 665,602.5 551.25,691.25" fill="url(#hatchG)" stroke="#000" stroke-width="1.2" />
<text class="t" x="867.5" y="376.8" font-size="16" text-anchor="middle" fill="#000" textLength="55" lengthAdjust="spacingAndGlyphs" >Детская</text>
<line x1="838.75" y1="381.3" x2="895.5" y2="381.3" stroke="#000" stroke-width="1.2"/>
<text class="t" x="867" y="395.7" font-size="16" text-anchor="middle" fill="#000" textLength="63" lengthAdjust="spacingAndGlyphs" >площадка</text>
<line x1="833.75" y1="400.9" x2="900" y2="400.9" stroke="#000" stroke-width="1.2"/>
<line x1="855" y1="353.75" x2="861.25" y2="362.5" stroke="#000" stroke-width="1.1"/>
<text class="t" x="581.4" y="615.8" font-size="16" text-anchor="middle" fill="#000" textLength="55.3" lengthAdjust="spacingAndGlyphs" >Детская</text>
<line x1="552.2" y1="620.8" x2="610" y2="620.8" stroke="#000" stroke-width="1.2"/>
<text class="t" x="580.5" y="635.5" font-size="16" text-anchor="middle" fill="#000" textLength="63.1" lengthAdjust="spacingAndGlyphs" >площадка</text>
<line x1="548.3" y1="640.9" x2="613.5" y2="640.9" stroke="#000" stroke-width="1.2"/>
<line x1="570" y1="593.75" x2="575" y2="601.25" stroke="#000" stroke-width="1.1"/>
<text class="t" x="651.1" y="740.9" font-size="16" text-anchor="middle" fill="#000" textLength="55.4" lengthAdjust="spacingAndGlyphs" >Детская</text>
<line x1="622" y1="746" x2="679.6" y2="746" stroke="#000" stroke-width="1.2"/>
<text class="t" x="650.8" y="760.7" font-size="16" text-anchor="middle" fill="#000" textLength="64" lengthAdjust="spacingAndGlyphs" >площадка</text>
<line x1="617.8" y1="765.9" x2="683.9" y2="765.9" stroke="#000" stroke-width="1.2"/>
<line x1="616.4" y1="725.1" x2="622.9" y2="733.1" stroke="#000" stroke-width="1.1"/>
<text class="t" x="889.2" y="496.5" font-size="16" text-anchor="middle" fill="#000" textLength="64.8" lengthAdjust="spacingAndGlyphs" >Площадка</text>
<line x1="855.9" y1="501.4" x2="923.1" y2="501.4" stroke="#000" stroke-width="1.2"/>
<text class="t" x="889.4" y="516.3" font-size="16" text-anchor="middle" fill="#000" textLength="32.7" lengthAdjust="spacingAndGlyphs" >"1000</text>
<line x1="872.1" y1="521.2" x2="906.9" y2="521.2" stroke="#000" stroke-width="1.2"/>
<text class="t" x="889.2" y="535.1" font-size="16" text-anchor="middle" fill="#000" textLength="49.6" lengthAdjust="spacingAndGlyphs" >дворов"</text>
<line x1="863.6" y1="541" x2="915.7" y2="541" stroke="#000" stroke-width="1.2"/>
<line x1="897.5" y1="482.5" x2="912.5" y2="471.25" stroke="#000" stroke-width="1.1"/>
</g>
<rect x="157.5" y="104.5" width="953.5" height="772" fill="none" stroke="#000" stroke-width="1.3" />
<rect x="7.5" y="5.5" width="1666" height="1177" fill="none" stroke="#8c8c8c" stroke-width="1.3" />
<rect x="86.5" y="24.5" width="1568" height="1139" fill="none" stroke="#000" stroke-width="3" />
<rect x="38.5" y="825.5" width="48" height="338" fill="none" stroke="#000" stroke-width="2.2" />
<line x1="58.7" y1="825.5" x2="58.7" y2="1163.5" stroke="#000" stroke-width="2.2"/>
<line x1="38.5" y1="925" x2="86.5" y2="925" stroke="#000" stroke-width="2.2"/>
<line x1="38.5" y1="1063.5" x2="86.5" y2="1063.5" stroke="#000" stroke-width="2.2"/>
<text class="t" x="0" y="0" font-size="14" text-anchor="middle" fill="#000" textLength="70" lengthAdjust="spacingAndGlyphs" transform="translate(53.2,876) rotate(-90)">Взам. инв. N</text>
<text class="t" x="0" y="0" font-size="14" text-anchor="middle" fill="#000" textLength="74" lengthAdjust="spacingAndGlyphs" transform="translate(53.2,995) rotate(-90)">Подл. и дата</text>
<text class="t" x="0" y="0" font-size="14" text-anchor="middle" fill="#000" textLength="68" lengthAdjust="spacingAndGlyphs" transform="translate(53.2,1113) rotate(-90)">Инв. N подл.</text>
<text class="t" x="639" y="71" font-size="26" text-anchor="start" fill="#000" textLength="449" lengthAdjust="spacingAndGlyphs" >Схема текущего состояния территории</text>
<text class="t" x="1121.5" y="166.5" font-size="26" text-anchor="start" fill="#000" textLength="517.5" lengthAdjust="spacingAndGlyphs" >Основные технико-экономические показатели</text>
<rect x="1097.7" y="197.3" width="556.8" height="122.7" fill="#fff" stroke="none" stroke-width="0" />
<line x1="1096.4" y1="197.3" x2="1655.8" y2="197.3" stroke="#000" stroke-width="2.6"/>
<line x1="1096.4" y1="257" x2="1655.8" y2="257" stroke="#000" stroke-width="2.6"/>
<line x1="1096.4" y1="288.6" x2="1655.8" y2="288.6" stroke="#000" stroke-width="2.6"/>
<line x1="1096.4" y1="320" x2="1655.8" y2="320" stroke="#000" stroke-width="2.6"/>
<line x1="1097.7" y1="197.3" x2="1097.7" y2="320" stroke="#000" stroke-width="2.6"/>
<line x1="1654.5" y1="197.3" x2="1654.5" y2="320" stroke="#000" stroke-width="2.6"/>
<line x1="1157.8" y1="197.3" x2="1157.8" y2="320" stroke="#000" stroke-width="2.6"/>
<line x1="1436" y1="197.3" x2="1436" y2="320" stroke="#000" stroke-width="2.6"/>
<line x1="1515" y1="197.3" x2="1515" y2="320" stroke="#000" stroke-width="2.6"/>
<text class="t" x="1127.6" y="236" font-size="16" text-anchor="middle" fill="#000" >№</text>
<text class="t" x="1296" y="236" font-size="16" text-anchor="middle" fill="#000" textLength="94" lengthAdjust="spacingAndGlyphs" >Наименование</text>
<text class="t" x="1475.3" y="236" font-size="16" text-anchor="middle" fill="#000" textLength="51" lengthAdjust="spacingAndGlyphs" >Ед. изм.</text>
<text class="t" x="1583.5" y="236" font-size="16" text-anchor="middle" fill="#000" textLength="79" lengthAdjust="spacingAndGlyphs" >Показатель</text>
<text class="t" x="1128" y="277.5" font-size="16" text-anchor="middle" fill="#000" >1</text>
<text class="t" x="1169" y="277.5" font-size="16" text-anchor="start" fill="#000" textLength="118" lengthAdjust="spacingAndGlyphs" >Площадь участка</text>
<text class="t" x="1482.7" y="277" font-size="16" text-anchor="middle" fill="#000" >м2</text>
<text class="t" x="1535.4" y="279" font-size="16" text-anchor="start" fill="#000" textLength="37" lengthAdjust="spacingAndGlyphs" >34512</text>
<text class="t" x="1128" y="309" font-size="16" text-anchor="middle" fill="#000" >2</text>
<text class="t" x="1169" y="309" font-size="16" text-anchor="start" fill="#000" textLength="195" lengthAdjust="spacingAndGlyphs" >Площадь твердого покрытия</text>
<text class="t" x="1482.7" y="308.6" font-size="16" text-anchor="middle" fill="#000" >м2</text>
<text class="t" x="1535.4" y="310" font-size="16" text-anchor="start" fill="#000" textLength="28" lengthAdjust="spacingAndGlyphs" >1848</text>
<text class="t" x="1061" y="514" font-size="27.5" text-anchor="start" fill="#000" textLength="445" lengthAdjust="spacingAndGlyphs" >Ведомость малых архитектурных форм</text>
<rect x="920" y="543.2" width="734.5" height="154" fill="#fff" stroke="none" stroke-width="0" />
<line x1="918.7" y1="543.2" x2="1655.8" y2="543.2" stroke="#000" stroke-width="2.6"/>
<line x1="918.7" y1="602.4" x2="1655.8" y2="602.4" stroke="#000" stroke-width="2.6"/>
<line x1="918.7" y1="634.4" x2="1655.8" y2="634.4" stroke="#000" stroke-width="1.4"/>
<line x1="918.7" y1="666" x2="1655.8" y2="666" stroke="#000" stroke-width="1.4"/>
<line x1="918.7" y1="697.2" x2="1655.8" y2="697.2" stroke="#000" stroke-width="2.6"/>
<line x1="920" y1="543.2" x2="920" y2="697.2" stroke="#000" stroke-width="2.4"/>
<line x1="1654.5" y1="543.2" x2="1654.5" y2="697.2" stroke="#000" stroke-width="2.4"/>
<line x1="959.5" y1="543.2" x2="959.5" y2="697.2" stroke="#000" stroke-width="2.4"/>
<line x1="1197.8" y1="543.2" x2="1197.8" y2="697.2" stroke="#000" stroke-width="2.4"/>
<line x1="1435.7" y1="543.2" x2="1435.7" y2="697.2" stroke="#000" stroke-width="2.4"/>
<line x1="1476" y1="543.2" x2="1476" y2="697.2" stroke="#000" stroke-width="2.4"/>
<text class="t" x="940" y="582" font-size="16" text-anchor="middle" fill="#000" textLength="27" lengthAdjust="spacingAndGlyphs" >Поз.</text>
<text class="t" x="1077.3" y="582" font-size="16" text-anchor="middle" fill="#000" textLength="84" lengthAdjust="spacingAndGlyphs" >Обозначение</text>
<text class="t" x="1311" y="582" font-size="16" text-anchor="middle" fill="#000" textLength="94" lengthAdjust="spacingAndGlyphs" >Наименование</text>
<text class="t" x="1455.4" y="554.5" font-size="16" text-anchor="middle" fill="#000" textLength="27" lengthAdjust="spacingAndGlyphs" >Кол-</text>
<text class="t" x="1455.4" y="574.5" font-size="16" text-anchor="middle" fill="#000" textLength="18" lengthAdjust="spacingAndGlyphs" >во,</text>
<text class="t" x="1455.4" y="594" font-size="16" text-anchor="middle" fill="#000" textLength="22" lengthAdjust="spacingAndGlyphs" >шт.</text>
<text class="t" x="1564.5" y="574.5" font-size="16" text-anchor="middle" fill="#000" textLength="78" lengthAdjust="spacingAndGlyphs" >Примечание</text>
<text class="t" x="940.3" y="622" font-size="16" text-anchor="middle" fill="#000" >1</text>
<text class="t" x="1230" y="623.5" font-size="16" text-anchor="start" fill="#000" textLength="47" lengthAdjust="spacingAndGlyphs" >Скамья</text>
<text class="t" x="1455.4" y="622" font-size="16" text-anchor="middle" fill="#000" textLength="11" lengthAdjust="spacingAndGlyphs" >16</text>
<text class="t" x="1508" y="624" font-size="16" text-anchor="start" fill="#000" textLength="28" lengthAdjust="spacingAndGlyphs" >сущ.</text>
<text class="t" x="940.3" y="653.9" font-size="16" text-anchor="middle" fill="#000" >2</text>
<text class="t" x="1230" y="655.4" font-size="16" text-anchor="start" fill="#000" textLength="32" lengthAdjust="spacingAndGlyphs" >Урна</text>
<text class="t" x="1455.4" y="653.9" font-size="16" text-anchor="middle" fill="#000" textLength="11" lengthAdjust="spacingAndGlyphs" >16</text>
<text class="t" x="1508" y="655.9" font-size="16" text-anchor="start" fill="#000" textLength="28" lengthAdjust="spacingAndGlyphs" >сущ.</text>
<text class="t" x="940.3" y="685.8" font-size="16" text-anchor="middle" fill="#000" >3</text>
<text class="t" x="1230" y="687.3" font-size="16" text-anchor="start" fill="#000" textLength="70" lengthAdjust="spacingAndGlyphs" >Освещение</text>
<text class="t" x="1455.4" y="685.8" font-size="16" text-anchor="middle" fill="#000" textLength="11" lengthAdjust="spacingAndGlyphs" >16</text>
<text class="t" x="1508" y="687.8" font-size="16" text-anchor="start" fill="#000" textLength="28" lengthAdjust="spacingAndGlyphs" >сущ.</text>
<rect x="1023.3" y="612.9" width="45.2" height="12" fill="none" stroke="#000" stroke-width="1.4" />
<circle cx="1039.2" cy="648.2" r="9" fill="none" stroke="#000" stroke-width="1.4"/>
<circle cx="1038.8" cy="678" r="9" fill="none" stroke="#000" stroke-width="1.4"/>
<line x1="1029.8" y1="678" x2="1047.8" y2="678" stroke="#000" stroke-width="1.4"/>
<line x1="1038.8" y1="669" x2="1038.8" y2="687" stroke="#000" stroke-width="1.4"/>
<text class="t" x="1090" y="729" font-size="27" text-anchor="start" fill="#000" textLength="387" lengthAdjust="spacingAndGlyphs" >Экспликация зданий и сооружений</text>
<rect x="920" y="758.3" width="734.5" height="345.1" fill="#fff" stroke="none" stroke-width="0" />
<line x1="918.7" y1="758.3" x2="1655.8" y2="758.3" stroke="#000" stroke-width="2.6"/>
<line x1="918.7" y1="817.9" x2="1655.8" y2="817.9" stroke="#000" stroke-width="2.6"/>
<line x1="918.7" y1="849.5" x2="1655.8" y2="849.5" stroke="#000" stroke-width="1.4"/>
<line x1="918.7" y1="881.2" x2="1655.8" y2="881.2" stroke="#000" stroke-width="1.4"/>
<line x1="918.7" y1="913.2" x2="1655.8" y2="913.2" stroke="#000" stroke-width="1.4"/>
<line x1="918.7" y1="944.9" x2="1655.8" y2="944.9" stroke="#000" stroke-width="1.4"/>
<line x1="918.7" y1="976.5" x2="1655.8" y2="976.5" stroke="#000" stroke-width="1.4"/>
<line x1="918.7" y1="1008.1" x2="1655.8" y2="1008.1" stroke="#000" stroke-width="1.4"/>
<line x1="918.7" y1="1040.2" x2="1655.8" y2="1040.2" stroke="#000" stroke-width="1.4"/>
<line x1="918.7" y1="1071.8" x2="1655.8" y2="1071.8" stroke="#000" stroke-width="1.4"/>
<line x1="918.7" y1="1103.4" x2="1655.8" y2="1103.4" stroke="#000" stroke-width="2.6"/>
<line x1="920" y1="758.3" x2="920" y2="1103.4" stroke="#000" stroke-width="2.4"/>
<line x1="1654.5" y1="758.3" x2="1654.5" y2="1103.4" stroke="#000" stroke-width="2.4"/>
<line x1="979.2" y1="758.3" x2="979.2" y2="1103.4" stroke="#000" stroke-width="2.4"/>
<line x1="1455.8" y1="758.3" x2="1455.8" y2="1103.4" stroke="#000" stroke-width="2.4"/>
<text class="t" x="949" y="770" font-size="16" text-anchor="middle" fill="#000" textLength="40" lengthAdjust="spacingAndGlyphs" >Номер</text>
<text class="t" x="949" y="790.5" font-size="16" text-anchor="middle" fill="#000" textLength="15" lengthAdjust="spacingAndGlyphs" >на</text>
<text class="t" x="949" y="810" font-size="16" text-anchor="middle" fill="#000" textLength="38" lengthAdjust="spacingAndGlyphs" >плане</text>
<text class="t" x="1216" y="788" font-size="16" text-anchor="middle" fill="#000" textLength="94" lengthAdjust="spacingAndGlyphs" >Наименование</text>
<text class="t" x="1554" y="788" font-size="16" text-anchor="middle" fill="#000" textLength="78" lengthAdjust="spacingAndGlyphs" >Примечание</text>
<text class="t" x="949" y="838.5" font-size="16" text-anchor="middle" fill="#000" >1</text>
<text class="t" x="990" y="838.5" font-size="16" text-anchor="start" fill="#000" >д. 31</text>
<text class="t" x="949" y="870.1" font-size="16" text-anchor="middle" fill="#000" >2</text>
<text class="t" x="990" y="870.1" font-size="16" text-anchor="start" fill="#000" >д. 19</text>
<text class="t" x="949" y="901.7" font-size="16" text-anchor="middle" fill="#000" >3</text>
<text class="t" x="990" y="901.7" font-size="16" text-anchor="start" fill="#000" >д. 24</text>
<text class="t" x="949" y="933.3" font-size="16" text-anchor="middle" fill="#000" >4</text>
<text class="t" x="990" y="933.3" font-size="16" text-anchor="start" fill="#000" >д. 22</text>
<text class="t" x="949" y="964.9" font-size="16" text-anchor="middle" fill="#000" >5</text>
<text class="t" x="990" y="964.9" font-size="16" text-anchor="start" fill="#000" >д. 25</text>
<text class="t" x="949" y="996.5" font-size="16" text-anchor="middle" fill="#000" >6</text>
<text class="t" x="990" y="996.5" font-size="16" text-anchor="start" fill="#000" >д. 26</text>
<text class="t" x="949" y="1028.1" font-size="16" text-anchor="middle" fill="#000" >7</text>
<text class="t" x="990" y="1028.1" font-size="16" text-anchor="start" fill="#000" >д. 20</text>
<text class="t" x="949" y="1059.7" font-size="16" text-anchor="middle" fill="#000" >8</text>
<text class="t" x="990" y="1059.7" font-size="16" text-anchor="start" fill="#000" >д. 13</text>
<text class="t" x="949" y="1091.3" font-size="16" text-anchor="middle" fill="#000" >9</text>
<text class="t" x="990" y="1091.3" font-size="16" text-anchor="start" fill="#000" >д. 14</text>
<rect x="920" y="1103.4" width="734" height="60" fill="#fff" stroke="none" stroke-width="0" />
<line x1="920" y1="1123.7" x2="1178.1" y2="1123.7" stroke="#000" stroke-width="1.2"/>
<line x1="920" y1="1143.4" x2="1178.1" y2="1143.4" stroke="#000" stroke-width="1.2"/>
<line x1="959.4" y1="1103.4" x2="959.4" y2="1163.4" stroke="#000" stroke-width="2.2"/>
<line x1="999.4" y1="1103.4" x2="999.4" y2="1163.4" stroke="#000" stroke-width="2.2"/>
<line x1="1038.8" y1="1103.4" x2="1038.8" y2="1163.4" stroke="#000" stroke-width="2.2"/>
<line x1="1078.8" y1="1103.4" x2="1078.8" y2="1163.4" stroke="#000" stroke-width="2.2"/>
<line x1="1138.2" y1="1103.4" x2="1138.2" y2="1163.4" stroke="#000" stroke-width="2.2"/>
<line x1="1178.1" y1="1103.4" x2="1178.1" y2="1163.4" stroke="#000" stroke-width="2.2"/>
<line x1="920" y1="1103.4" x2="920" y2="1164.6" stroke="#000" stroke-width="2.4"/>
<line x1="1614.9" y1="1103.4" x2="1614.9" y2="1163.4" stroke="#000" stroke-width="2.2"/>
<line x1="1614.9" y1="1123.3" x2="1654" y2="1123.3" stroke="#000" stroke-width="1.2"/>
<text class="t" x="939.7" y="1157.5" font-size="13" text-anchor="middle" fill="#000" textLength="24" lengthAdjust="spacingAndGlyphs" >Изм.</text>
<text class="t" x="979.4" y="1157.5" font-size="13" text-anchor="middle" fill="#000" textLength="38" lengthAdjust="spacingAndGlyphs" >Кол.уч.</text>
<text class="t" x="1019.1" y="1157.5" font-size="13" text-anchor="middle" fill="#000" textLength="26" lengthAdjust="spacingAndGlyphs" >Лист</text>
<text class="t" x="1058.8" y="1157.5" font-size="13" text-anchor="middle" fill="#000" textLength="33" lengthAdjust="spacingAndGlyphs" >N док.</text>
<text class="t" x="1108.5" y="1157.5" font-size="13" text-anchor="middle" fill="#000" textLength="28" lengthAdjust="spacingAndGlyphs" >Подп.</text>
<text class="t" x="1158.15" y="1157.5" font-size="13" text-anchor="middle" fill="#000" textLength="30" lengthAdjust="spacingAndGlyphs" >Дата</text>
<text class="t" x="1396" y="1138" font-size="16" text-anchor="middle" fill="#000" textLength="66" lengthAdjust="spacingAndGlyphs" >01-07-2024</text>
<text class="t" x="1634.5" y="1118.5" font-size="13" text-anchor="middle" fill="#000" textLength="26" lengthAdjust="spacingAndGlyphs" >Лист</text>
<text class="t" x="1634.5" y="1148.5" font-size="16" text-anchor="middle" fill="#000" >6</text>
<text class="t" x="166" y="902" font-size="15" text-anchor="start" fill="#000" textLength="154" lengthAdjust="spacingAndGlyphs" >Условные обозначения:</text>
<rect x="156.8" y="921.6" width="93" height="45.4" fill="#989898" stroke="#000" stroke-width="1.5" />
<rect x="156.8" y="983.2" width="93" height="44.8" fill="#bababa" stroke="#000" stroke-width="1.5" />
<rect x="156.8" y="1046.8" width="93" height="45.2" fill="url(#hatchG)" stroke="#000" stroke-width="1.5" />
<text class="t" x="287" y="942" font-size="15" text-anchor="start" fill="#000" textLength="114" lengthAdjust="spacingAndGlyphs" >- асфальт (сущ.)</text>
<text class="t" x="275.5" y="1003" font-size="15" text-anchor="start" fill="#000" textLength="180" lengthAdjust="spacingAndGlyphs" >- твердое покрытие (сущ.)</text>
<text class="t" x="277" y="1067" font-size="15" text-anchor="start" fill="#000" textLength="356" lengthAdjust="spacingAndGlyphs" >- твердое покрытие, нуждающееся в ремонте (сущ.)</text>
</svg>
</body></html>
